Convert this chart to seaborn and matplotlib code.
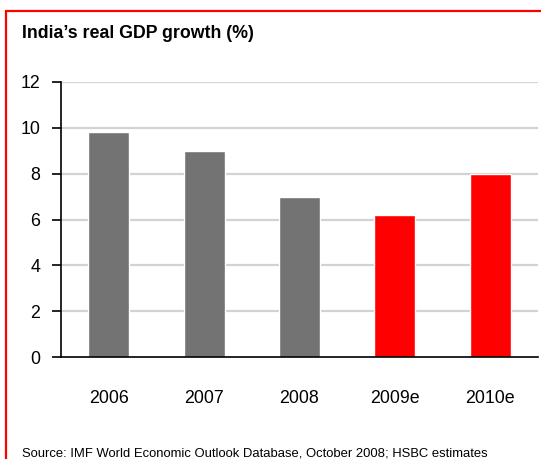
import matplotlib
matplotlib.use("Agg")
import matplotlib.pyplot as plt
import seaborn as sns
import pandas as pd
from matplotlib.lines import Line2D

# chart data
years = ["2006", "2007", "2008", "2009e", "2010e"]
growth = [9.8, 9.0, 7.0, 6.2, 8.0]
bar_colors = ["#737373", "#737373", "#737373", "#ff0000", "#ff0000"]
y_ticks = [0, 2, 4, 6, 8, 10, 12]

title = "India\u2019s real GDP growth (%)"
source = "Source: IMF World Economic Outlook Database, October 2008; HSBC estimates"

sns.set_style("white")
plt.rcParams['font.family'] = ['Liberation Sans', 'DejaVu Sans']
plt.rcParams['text.color'] = 'black'
plt.rcParams['xtick.color'] = 'black'
plt.rcParams['ytick.color'] = 'black'

W, H = 541, 459
fig = plt.figure(figsize=(W / 100, H / 100), dpi=100)

# axes box in pixel terms
x0, x1 = 61, 538
y_top, y_bot = 82, 357
ax = fig.add_axes([x0 / W, 1 - y_bot / H, (x1 - x0) / W, (y_bot - y_top) / H])

df = pd.DataFrame({"year": years, "growth": growth})
sns.barplot(data=df, x="year", y="growth", hue="year",
            palette=dict(zip(years, bar_colors)), width=0.43,
            saturation=1, legend=False, ax=ax, zorder=3)

ax.set_ylim(0, 12)
ax.set_xlim(-0.5, len(years) - 0.5)
ax.set_yticks(y_ticks)
ax.set_xlabel("")
ax.set_ylabel("")

# light gridlines
for v in y_ticks[1:]:
    ax.axhline(v, color="#d2d2d2", lw=1.6, zorder=1)

for s in ["top", "right"]:
    ax.spines[s].set_visible(False)
for s in ["left", "bottom"]:
    ax.spines[s].set_color("black")
    ax.spines[s].set_linewidth(1.2)
    ax.spines[s].set_zorder(4)

# x ticks at category boundaries
ax.set_xticks([i - 0.5 for i in range(len(years) + 1)], minor=True)
ax.tick_params(axis="x", which="minor", direction="out", length=6, width=1.2, color="black")
ax.tick_params(axis="x", which="major", length=0, pad=24, labelsize=12.8, labelcolor="black")
ax.tick_params(axis="y", direction="out", length=6.5, width=1.2, color="black",
               pad=8.5, labelsize=12.8, labelcolor="black", left=True)

# red frame (top and left)
fig.add_artist(Line2D([6 / W, 1], [1 - 11 / H, 1 - 11 / H], color="#ff0000", lw=1.6,
                      transform=fig.transFigure))
fig.add_artist(Line2D([6 / W, 6 / W], [0, 1 - 11 / H], color="#ff0000", lw=1.6,
                      transform=fig.transFigure))

fig.text(22 / W, 1 - 33 / H, title, fontsize=12.8, fontweight="bold", va="center",
         ha="left", color="black")
fig.text(22 / W, 1 - 447 / H, source, fontsize=9.4, va="top", ha="left", color="black")

fig.savefig("out.png", dpi=100)
